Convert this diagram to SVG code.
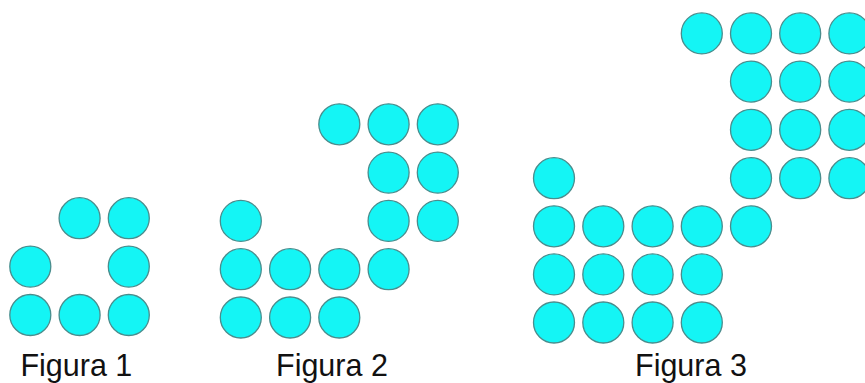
<svg xmlns="http://www.w3.org/2000/svg" width="865" height="383" viewBox="0 0 865 383">
<style>
.c{fill:#14f5f5;stroke:#4a8d8d;stroke-width:1.3}
.t{font-family:"Liberation Sans",Arial,sans-serif;font-size:30.5px;fill:#111}
</style>
<rect width="865" height="383" fill="#fff"/>
<g id="figura1">
<circle class="c" cx="79.6" cy="218.2" r="20.5"/>
<circle class="c" cx="128.8" cy="218.2" r="20.5"/>
<circle class="c" cx="30.3" cy="266.6" r="20.5"/>
<circle class="c" cx="128.8" cy="266.6" r="20.5"/>
<circle class="c" cx="30.3" cy="315" r="20.5"/>
<circle class="c" cx="79.6" cy="315" r="20.5"/>
<circle class="c" cx="128.8" cy="315" r="20.5"/>
<text class="t" x="20.4" y="376.3">Figura 1</text>
</g>
<g id="figura2">
<circle class="c" cx="339.3" cy="124.3" r="20.5"/>
<circle class="c" cx="388.6" cy="124.3" r="20.5"/>
<circle class="c" cx="437.8" cy="124.3" r="20.5"/>
<circle class="c" cx="388.6" cy="172.6" r="20.5"/>
<circle class="c" cx="437.8" cy="172.6" r="20.5"/>
<circle class="c" cx="240.8" cy="220.9" r="20.5"/>
<circle class="c" cx="388.6" cy="220.9" r="20.5"/>
<circle class="c" cx="437.8" cy="220.9" r="20.5"/>
<circle class="c" cx="240.8" cy="269.2" r="20.5"/>
<circle class="c" cx="290.1" cy="269.2" r="20.5"/>
<circle class="c" cx="339.3" cy="269.2" r="20.5"/>
<circle class="c" cx="388.6" cy="269.2" r="20.5"/>
<circle class="c" cx="240.8" cy="317.5" r="20.5"/>
<circle class="c" cx="290.1" cy="317.5" r="20.5"/>
<circle class="c" cx="339.3" cy="317.5" r="20.5"/>
<text class="t" x="276" y="376.3">Figura 2</text>
</g>
<g id="figura3">
<circle class="c" cx="701.8" cy="33.4" r="20.5"/>
<circle class="c" cx="751" cy="33.4" r="20.5"/>
<circle class="c" cx="800.2" cy="33.4" r="20.5"/>
<circle class="c" cx="849.4" cy="33.4" r="20.5"/>
<circle class="c" cx="751" cy="81.6" r="20.5"/>
<circle class="c" cx="800.2" cy="81.6" r="20.5"/>
<circle class="c" cx="849.4" cy="81.6" r="20.5"/>
<circle class="c" cx="751" cy="129.8" r="20.5"/>
<circle class="c" cx="800.2" cy="129.8" r="20.5"/>
<circle class="c" cx="849.4" cy="129.8" r="20.5"/>
<circle class="c" cx="554" cy="178.2" r="20.5"/>
<circle class="c" cx="751" cy="178.2" r="20.5"/>
<circle class="c" cx="800.2" cy="178.2" r="20.5"/>
<circle class="c" cx="849.4" cy="178.2" r="20.5"/>
<circle class="c" cx="554" cy="226.3" r="20.5"/>
<circle class="c" cx="603.3" cy="226.3" r="20.5"/>
<circle class="c" cx="652.6" cy="226.3" r="20.5"/>
<circle class="c" cx="701.8" cy="226.3" r="20.5"/>
<circle class="c" cx="751" cy="226.3" r="20.5"/>
<circle class="c" cx="554" cy="274.4" r="20.5"/>
<circle class="c" cx="603.3" cy="274.4" r="20.5"/>
<circle class="c" cx="652.6" cy="274.4" r="20.5"/>
<circle class="c" cx="701.8" cy="274.4" r="20.5"/>
<circle class="c" cx="554" cy="322.5" r="20.5"/>
<circle class="c" cx="603.3" cy="322.5" r="20.5"/>
<circle class="c" cx="652.6" cy="322.5" r="20.5"/>
<circle class="c" cx="701.8" cy="322.5" r="20.5"/>
<text class="t" x="635" y="376">Figura 3</text>
</g>
</svg>
